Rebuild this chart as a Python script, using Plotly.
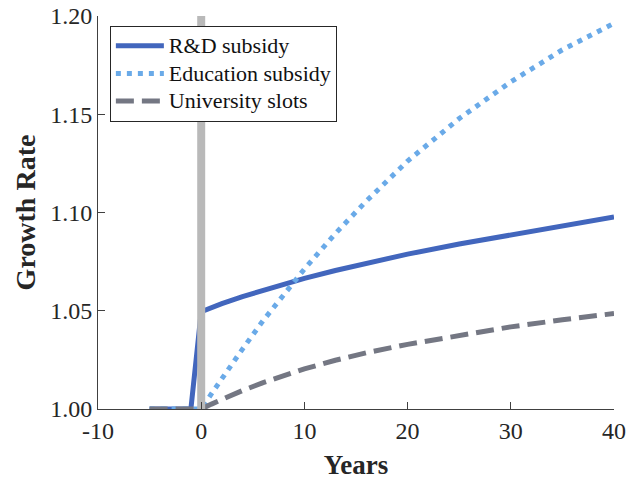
import plotly.graph_objects as go

# Years relative to the policy change
years = [-5, -4, -3, -2, -1, 0, 1, 2, 4, 6, 8, 10, 13, 16, 20, 25, 30, 35, 40]

# Growth rate paths for each policy
rd_subsidy = [1.000, 1.000, 1.000, 1.000, 1.000, 1.0495, 1.0516, 1.0536, 1.0572, 1.0605,
              1.0636, 1.0665, 1.0705, 1.0742, 1.0788, 1.0840, 1.0887, 1.0932, 1.0977]
edu_subsidy = [1.000, 1.000, 1.000, 1.000, 1.000, 1.000, 1.0078, 1.0155, 1.0305, 1.0450,
               1.0585, 1.0712, 1.0893, 1.1058, 1.1262, 1.1478, 1.1665, 1.1828, 1.1963]
uni_slots = [1.000, 1.000, 1.000, 1.000, 1.000, 1.000, 1.0025, 1.0049, 1.0094, 1.0134,
             1.0171, 1.0204, 1.0248, 1.0286, 1.0329, 1.0376, 1.0418, 1.0454, 1.0486]

# Policy date marker
marker_x = [0, 0]
marker_y = [1.00, 1.20]

x_ticks = [-10, 0, 10, 20, 30, 40]
y_ticks = [1.00, 1.05, 1.10, 1.15, 1.20]

serif = "Liberation Serif"


def legend_label(text):
    # larger glyphs than the legend's base size, keeping rows compact
    return f'<span style="font-size:22px">{text}</span>'


fig = go.Figure()
fig.add_trace(go.Scatter(x=years, y=rd_subsidy, mode="lines", name=legend_label("R&D subsidy"),
                         line=dict(color="#4266bd", width=5)))
fig.add_trace(go.Scatter(x=years, y=edu_subsidy, mode="lines", name=legend_label("Education subsidy"),
                         line=dict(color="#6aaae8", width=5, dash="5px,6px")))
fig.add_trace(go.Scatter(x=years, y=uni_slots, mode="lines", name=legend_label("University slots"),
                         line=dict(color="#747783", width=5, dash="18px,8px")))
fig.add_trace(go.Scatter(x=marker_x, y=marker_y, mode="lines", showlegend=False,
                         line=dict(color="#b9b9b9", width=8), hoverinfo="skip"))

fig.update_layout(
    width=628, height=481,
    margin=dict(l=98, r=14, t=16, b=72),
    paper_bgcolor="white", plot_bgcolor="white",
    font=dict(family=serif, size=24, color="#262626"),
    legend=dict(x=0.023, y=0.975, xanchor="left", yanchor="top",
                bgcolor="white", bordercolor="#262626", borderwidth=1,
                font=dict(family=serif, size=19, color="#111111"),
                itemwidth=48, tracegroupgap=0),
    xaxis=dict(range=[-10, 40], tickvals=x_ticks, ticktext=[str(v) for v in x_ticks],
               automargin=False,
               showgrid=False, zeroline=False, showline=True, linecolor="#404040",
               linewidth=1, ticks="inside", ticklen=7, tickcolor="#404040",
               tickfont=dict(family=serif, size=24, color="#262626"),
               title=dict(text="<b>Years</b>", font=dict(family=serif, size=27, color="#262626"),
                          standoff=12)),
    yaxis=dict(range=[1.00, 1.20], tickvals=y_ticks, ticktext=[f"{v:.2f}" for v in y_ticks],
               automargin=False,
               showgrid=False, zeroline=False, showline=True, linecolor="#404040",
               linewidth=1, ticks="inside", ticklen=7, tickcolor="#404040",
               tickfont=dict(family=serif, size=24, color="#262626"),
               title=dict(text="<b>Growth Rate</b>", font=dict(family=serif, size=28, color="#262626"),
                          standoff=6)),
)

fig.write_html("out.html")
